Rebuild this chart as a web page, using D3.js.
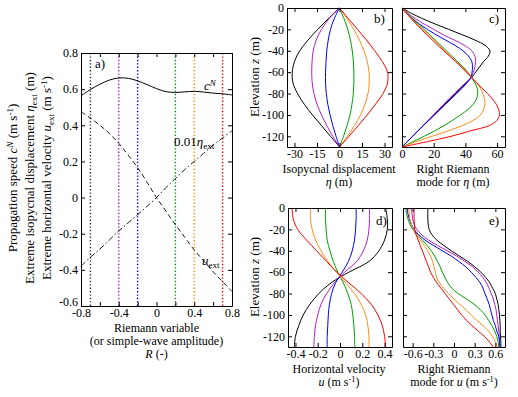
<!DOCTYPE html>
<html>
<head>
<meta charset="utf-8">
<script src="https://cdn.jsdelivr.net/npm/d3@7"></script>
<style>
  body { margin: 0; background: #fff; }
  text { font-family: 'Liberation Serif', 'Times New Roman', Times, serif; }
</style>
</head>
<body>
<svg id="canvas" width="518" height="397"></svg>
<script>
// ---- data ----
const caseR = [-0.7, -0.4, -0.2, 0.2, 0.4, 0.7]
const caseColors = ['#000000', '#b01ec8', '#0000ff', '#00a000', '#ff8c1a', '#ff0000']

// panel a: functions of the Riemann variable R
const rGrid = [-0.8, -0.7, -0.6, -0.5, -0.4, -0.3, -0.2, -0.1, 0, 0.1, 0.2, 0.3, 0.4, 0.5, 0.6, 0.7, 0.8]
const cN = [0.563, 0.598, 0.627, 0.650, 0.662, 0.660, 0.646, 0.625, 0.603, 0.586, 0.582, 0.585, 0.588, 0.584, 0.578, 0.574, 0.568]
const uExt = [0.475, 0.44, 0.40, 0.355, 0.30, 0.235, 0.165, 0.085, 0.0, -0.075, -0.15, -0.22, -0.29, -0.35, -0.41, -0.465, -0.52]
const etaExtScaled = [-0.38, -0.33, -0.285, -0.235, -0.185, -0.14, -0.095, -0.048, 0, 0.055, 0.105, 0.155, 0.2, 0.245, 0.29, 0.33, 0.37]

// vertical profiles, one row per case (same order as caseR)
const zCoarse = [0, -10, -20, -30, -40, -50, -60, -70, -80, -90, -100, -110, -120, -130]
const zFine = [0, -5, -10, -15, -20, -25, -30, -35, -40, -45, -50, -55, -60, -65, -70, -75, -80, -85, -90, -95, -100, -105, -110, -115, -120, -125, -130]

const etaProfiles = [
  [0, -7.5, -14.5, -21, -26.5, -30, -31.5, -31, -28, -23.5, -18, -12, -6, 0],
  [0, -7, -12, -15.5, -17.5, -18.3, -18.5, -18.2, -17, -15, -12, -8.5, -4.5, 0],
  [0, -3.5, -6, -7.5, -8.5, -9, -9.3, -9.3, -8.8, -7.8, -6.3, -4.5, -2.3, 0],
  [0, 3, 5.5, 7.3, 8.5, 9.3, 9.6, 9.6, 9.2, 8.3, 7, 5, 2.7, 0],
  [0, 5, 9.5, 13.3, 16.3, 18.5, 19.7, 19.8, 19, 17, 14, 10, 5.3, 0],
  [0, 6, 12, 18, 23.5, 28.5, 32, 32, 29, 24, 18.5, 12.5, 6.3, 0]
]

const etaRiemann = [
  [0, 6, 13, 21, 29.5, 38, 46, 52.5, 55.5, 54.5, 51.5, 49, 46.5, 44, 40.6, 37.2, 33.8, 30.4, 27, 23.6, 20.3, 16.9, 13.5, 10.1, 6.8, 3.4, 0],
  [0, 4, 8.5, 14, 20, 26, 33, 39.5, 44, 46, 46.5, 46, 45, 43.5, 40, 36.5, 33, 29.5, 26.3, 23, 19.8, 16.5, 13.2, 10, 6.6, 3.3, 0],
  [0, 3, 6.5, 11, 16, 21.5, 27.5, 33.5, 38.5, 42, 44, 44.5, 44.2, 43.5, 41, 38, 34.5, 31, 27.5, 24, 20.5, 17, 13.5, 10, 6.7, 3.3, 0],
  [0, 3.5, 7, 10.5, 14, 17.5, 21, 24.5, 28, 31.5, 35, 38.5, 41.5, 44, 46, 47.5, 47.8, 47, 45, 41.5, 37, 32, 26.5, 20.5, 14, 7, 0],
  [0, 3, 6, 9.5, 13, 16.5, 20, 23.5, 27, 30.5, 34, 37.5, 41, 44, 47, 49.5, 51, 52, 52.3, 51.5, 49.5, 45, 38, 29, 19, 9, 0],
  [0, 2.8, 5.8, 9, 12.3, 15.7, 19.2, 22.7, 26.3, 30, 33.7, 37.3, 40.7, 44, 47.3, 50.5, 54, 57, 59.5, 61, 61.5, 60, 55, 43, 31, 16, 0]
]

const uProfiles = [
  [0.41, 0.425, 0.425, 0.40, 0.35, 0.26, 0.08, -0.08, -0.19, -0.27, -0.33, -0.37, -0.40, -0.41],
  [0.265, 0.265, 0.26, 0.245, 0.21, 0.15, 0.04, -0.05, -0.12, -0.17, -0.20, -0.22, -0.23, -0.235],
  [0.145, 0.145, 0.14, 0.13, 0.11, 0.075, 0.02, -0.04, -0.075, -0.095, -0.105, -0.11, -0.115, -0.115],
  [-0.13, -0.13, -0.125, -0.115, -0.09, -0.06, -0.02, 0.03, 0.07, 0.10, 0.115, 0.125, 0.13, 0.133],
  [-0.265, -0.265, -0.25, -0.22, -0.17, -0.11, -0.03, 0.05, 0.13, 0.19, 0.23, 0.25, 0.26, 0.26],
  [-0.43, -0.42, -0.38, -0.30, -0.21, -0.12, -0.03, 0.08, 0.19, 0.28, 0.34, 0.38, 0.40, 0.41]
]

const uRiemann = [
  [-0.38, -0.38, -0.38, -0.375, -0.36, -0.32, -0.25, -0.15, -0.04, 0.08, 0.2, 0.3, 0.39, 0.46, 0.52, 0.56, 0.6, 0.62, 0.64, 0.65, 0.66, 0.665, 0.67, 0.67, 0.675, 0.68, 0.68],
  [-0.62, -0.61, -0.6, -0.58, -0.54, -0.47, -0.37, -0.24, -0.1, 0.04, 0.16, 0.27, 0.35, 0.42, 0.47, 0.51, 0.54, 0.57, 0.59, 0.61, 0.62, 0.63, 0.64, 0.65, 0.655, 0.66, 0.66],
  [-0.68, -0.67, -0.65, -0.62, -0.58, -0.51, -0.42, -0.3, -0.17, -0.04, 0.07, 0.17, 0.25, 0.32, 0.38, 0.42, 0.45, 0.48, 0.51, 0.53, 0.55, 0.57, 0.6, 0.62, 0.65, 0.66, 0.67],
  [-0.7, -0.69, -0.67, -0.64, -0.6, -0.53, -0.46, -0.39, -0.33, -0.28, -0.24, -0.2, -0.17, -0.13, -0.09, -0.03, 0.06, 0.18, 0.29, 0.38, 0.45, 0.5, 0.55, 0.59, 0.62, 0.64, 0.65],
  [-0.66, -0.65, -0.64, -0.62, -0.59, -0.55, -0.49, -0.43, -0.38, -0.34, -0.31, -0.29, -0.27, -0.25, -0.21, -0.15, -0.08, 0.0, 0.08, 0.17, 0.25, 0.33, 0.42, 0.5, 0.56, 0.6, 0.63],
  [-0.58, -0.58, -0.58, -0.575, -0.57, -0.55, -0.52, -0.49, -0.46, -0.43, -0.4, -0.37, -0.34, -0.3, -0.25, -0.19, -0.13, -0.07, -0.01, 0.05, 0.11, 0.18, 0.26, 0.35, 0.44, 0.51, 0.57]
]

// ---- drawing ----
const svg = d3.select('#canvas')
const serif = 'Liberation Serif'
const tickFont = 12
const labelFont = 12

// text with italic / super / subscript pieces
const richText = (parent, parts, attrs) => {
  const t = parent.append('text').attr('font-family', serif)
  Object.entries(attrs).forEach(([k, v]) => t.attr(k, v))
  let shift = 0
  parts.forEach(p => {
    const target = p.sup ? -4 : p.sub ? 2.5 : 0
    const s = t.append('tspan').text(p.t).attr('dy', target - shift)
    shift = target
    if (p.sup || p.sub) s.attr('font-size', '0.7em')
    if (p.i) s.attr('font-style', 'italic')
  })
  return t
}

const makePanel = (box, xDomain, yDomain) => ({
  box,
  x: d3.scaleLinear().domain(xDomain).range([box.left, box.right]),
  y: d3.scaleLinear().domain(yDomain).range([box.bottom, box.top])
})

const styleAxis = g => {
  g.attr('font-size', tickFont).attr('font-family', serif)
  g.selectAll('text').attr('font-family', serif)
  g.selectAll('path, line').attr('stroke', '#000')
}

const drawAxes = (p, xTicks, yTicks, xFmt, yFmt) => {
  const g = svg.append('g')
  g.append('g').attr('transform', `translate(0,${p.box.bottom})`)
    .call(d3.axisBottom(p.x).tickValues(xTicks).tickSizeInner(-4).tickSizeOuter(0).tickPadding(2).tickFormat(xFmt))
    .call(styleAxis)
  g.append('g').attr('transform', `translate(0,${p.box.top})`)
    .call(d3.axisTop(p.x).tickValues(xTicks).tickSizeInner(-4).tickSizeOuter(0).tickFormat(''))
    .call(styleAxis)
  const left = g.append('g').attr('transform', `translate(${p.box.left},0)`)
    .call(d3.axisLeft(p.y).tickValues(yTicks).tickSizeInner(-4).tickSizeOuter(0).tickPadding(3).tickFormat(yFmt))
    .call(styleAxis)
  g.append('g').attr('transform', `translate(${p.box.right},0)`)
    .call(d3.axisRight(p.y).tickValues(yTicks).tickSizeInner(-4).tickSizeOuter(0).tickFormat(''))
    .call(styleAxis)
  return left
}

const plain = d => String(d)
const label = (x, y, txt, anchor) => svg.append('text').attr('font-family', serif)
  .attr('x', x).attr('y', y).attr('font-size', labelFont).attr('text-anchor', anchor || 'start').text(txt)

// ---------- panel a ----------
const pa = makePanel({ left: 81, right: 232, top: 53, bottom: 306 }, [-0.8, 0.8], [-0.6, 0.8])
const aX = [-0.8, -0.6, -0.4, -0.2, 0, 0.2, 0.4, 0.6, 0.8]
const aY = [-0.6, -0.4, -0.2, 0, 0.2, 0.4, 0.6, 0.8]

svg.append('g').selectAll('line')
  .data(caseR)
  .enter()
  .append('line')
    .attr('x1', d => pa.x(d)).attr('x2', d => pa.x(d))
    .attr('y1', pa.box.top).attr('y2', pa.box.bottom)
    .attr('stroke', (d, i) => i === 0 ? '#333' : caseColors[i])
    .attr('stroke-width', 1.4)
    .attr('stroke-dasharray', '1.4,2')

const lineR = vals => d3.line().curve(d3.curveCatmullRom.alpha(0.5))
  .x((d, i) => pa.x(rGrid[i])).y(d => pa.y(d))(vals)

svg.append('path').attr('d', lineR(cN)).attr('fill', 'none').attr('stroke', '#000').attr('stroke-width', 1)
svg.append('path').attr('d', lineR(uExt)).attr('fill', 'none').attr('stroke', '#000').attr('stroke-width', 0.9)
  .attr('stroke-dasharray', '5,3')
svg.append('path').attr('d', lineR(etaExtScaled)).attr('fill', 'none').attr('stroke', '#000').attr('stroke-width', 0.9)
  .attr('stroke-dasharray', '6,2.5,1.5,2.5')

const aLeft = drawAxes(pa, aX, aY, d => (Math.round(Math.abs(d) * 10) % 4 === 0 ? String(d) : ''), plain)
// lift the bottom y label a little so it clears the first x label
aLeft.selectAll('.tick').filter(d => d === -0.6).select('text').attr('dy', '-0.05em')

label(95, 68, 'a)').attr('font-size', 13)
richText(svg, [{ t: 'c', i: true }, { t: 'N', i: true, sup: true }], { x: 204, y: 90, 'font-size': 13 })
richText(svg, [{ t: '0.01' }, { t: 'η', i: true }, { t: 'ext', sub: true }], { x: 174, y: 146, 'font-size': 13 })
richText(svg, [{ t: 'u', i: true }, { t: 'ext', sub: true }], { x: 202, y: 265, 'font-size': 13 })

// y label: three rotated lines
const aYLabels = [
  [{ t: 'Propagation speed ' }, { t: 'c', i: true }, { t: 'N', i: true, sup: true }, { t: ' (m s' }, { t: '-1', sup: true }, { t: ')' }],
  [{ t: 'Extreme isopycnal displacement  ' }, { t: 'η', i: true }, { t: 'ext', sub: true }, { t: ' (m)' }],
  [{ t: 'Extreme horizontal velocity ' }, { t: 'u', i: true }, { t: 'ext', sub: true }, { t: ' (m s' }, { t: '-1', sup: true }, { t: ')' }]
]
aYLabels.forEach((parts, i) => {
  const x = 17 + i * 17
  richText(svg, parts, { x: 0, y: 0, 'font-size': 13, 'text-anchor': 'middle',
    transform: `translate(${x},178) rotate(-90)` })
})

const aMid = (pa.box.left + pa.box.right) / 2
label(aMid, 332, 'Riemann variable', 'middle')
label(aMid, 345, '(or simple-wave amplitude)', 'middle')
richText(svg, [{ t: 'R', i: true }, { t: ' (-)' }], { x: aMid, y: 358, 'text-anchor': 'middle', 'font-size': labelFont })

// ---------- profile panels ----------
const zTicks = [0, -20, -40, -60, -80, -100, -120]

const drawProfiles = (p, zs, rows) => {
  const gen = d3.line().curve(d3.curveCatmullRom.alpha(0.5))
    .x(d => p.x(d[0])).y(d => p.y(d[1]))
  svg.append('g').selectAll('path')
    .data(rows)
    .enter()
    .append('path')
      .attr('d', row => gen(row.map((v, i) => [v, zs[i]])))
      .attr('fill', 'none')
      .attr('stroke', (d, i) => caseColors[i])
      .attr('stroke-width', 1)
}

const elevationLabel = (cx, cy) => {
  richText(svg, [{ t: 'Elevation  ' }, { t: 'z', i: true }, { t: ' (m)' }],
    { x: 0, y: 0, 'font-size': 13, 'text-anchor': 'middle', transform: `translate(${cx},${cy}) rotate(-90)` })
}

const twoLineLabel = (cx, y, first, second) => {
  label(cx, y, first, 'middle')
  richText(svg, second, { x: cx, y: y + 13, 'text-anchor': 'middle', 'font-size': labelFont })
}

// panel b
const pb = makePanel({ left: 287, right: 392, top: 8, bottom: 147 }, [-35, 35], [-130, 0])
drawProfiles(pb, zCoarse, etaProfiles)
drawAxes(pb, [-30, -15, 0, 15, 30], zTicks, plain, plain)
label(374, 23, 'b)').attr('font-size', 13)
elevationLabel(259, 77)
twoLineLabel(339, 173, 'Isopycnal displacement', [{ t: 'η', i: true }, { t: ' (m)' }])

// panel c
const pc = makePanel({ left: 402, right: 505, top: 8, bottom: 147 }, [0, 65], [-130, 0])
drawProfiles(pc, zFine, etaRiemann)
drawAxes(pc, [0, 20, 40, 60], zTicks, plain, '')
label(489, 23, 'c)').attr('font-size', 13)
twoLineLabel(453, 173, 'Right Riemann', [{ t: 'mode for ' }, { t: 'η', i: true }, { t: ' (m)' }])

// panel d
const pd = makePanel({ left: 288, right: 392, top: 208, bottom: 347 }, [-0.467, 0.467], [-130, 0])
drawProfiles(pd, zCoarse, uProfiles)
drawAxes(pd, [-0.4, -0.2, 0, 0.2, 0.4], zTicks, plain, plain)
label(376, 225, 'd)').attr('font-size', 13)
elevationLabel(259, 277)
twoLineLabel(339, 373, 'Horizontal velocity', [{ t: 'u', i: true }, { t: ' (m s' }, { t: '-1', sup: true }, { t: ')' }])

// panel e
const pe = makePanel({ left: 403, right: 505, top: 208, bottom: 347 }, [-0.74, 0.74], [-130, 0])
drawProfiles(pe, zFine, uRiemann)
drawAxes(pe, [-0.6, -0.3, 0, 0.3, 0.6], zTicks, plain, '')
label(489, 225, 'e)').attr('font-size', 13)
twoLineLabel(454, 373, 'Right Riemann', [{ t: 'mode for ' }, { t: 'u', i: true }, { t: ' (m s' }, { t: '-1', sup: true }, { t: ')' }])
</script>
</body>
</html>
